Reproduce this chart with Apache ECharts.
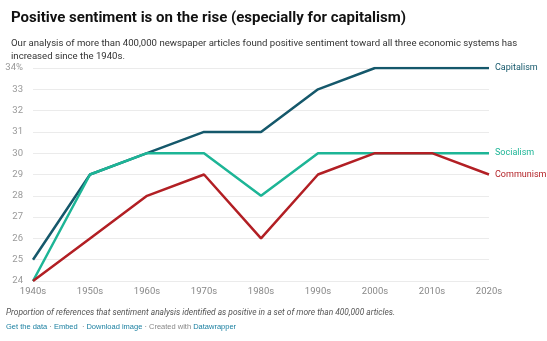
<!DOCTYPE html>
<html><head><meta charset="utf-8">
<script src="https://cdn.jsdelivr.net/npm/echarts@6/dist/echarts.min.js"></script>
<style>html,body{margin:0;padding:0;background:#fff}#c{width:547px;height:341px}</style>
</head><body><div id="c"></div>
<script>
const categories = ['1940s','1950s','1960s','1970s','1980s','1990s','2000s','2010s','2020s'];
const capitalism = [25, 29, 30, 31, 31, 33, 34, 34, 34];
const socialism  = [24, 29, 30, 30, 28, 30, 30, 30, 30];
const communism  = [24, 26, 28, 29, 26, 29, 30, 30, 29];
const yTicks = [24,25,26,27,28,29,30,31,32,33,34];

const chart = echarts.init(document.getElementById('c'));
function mk(name, data, color){
  return {name, type:'line', data, symbol:'none', smooth:false,
    lineStyle:{color, width:2.5}, itemStyle:{color},
    endLabel:{show:true, formatter:name, color, fontSize:9, fontFamily:'Roboto', distance:6}};
}
chart.setOption({
  animation:false,
  textStyle:{fontFamily:'Roboto'},
  title:[{text:'Positive sentiment is on the rise (especially for capitalism)', left:6, top:6,
    textStyle:{fontSize:15, fontWeight:'bold', color:'#111', fontFamily:'Roboto'}},
   {text:'Our analysis of more than 400,000 newspaper articles found positive sentiment toward all three economic systems has\nincreased since the 1940s.', left:6, top:32,
    textStyle:{fontSize:9.6, fontWeight:'normal', color:'#333', lineHeight:13, fontFamily:'Roboto'}}],
  grid:{left:33, right:58, top:68, bottom:60, containLabel:false},
  xAxis:{type:'category', data:categories, boundaryGap:false,
    axisLine:{show:false}, axisTick:{show:false},
    axisLabel:{color:'#888', fontSize:9.5, margin:6}},
  yAxis:{type:'value', min:24, max:34, interval:1,
    axisLine:{show:false}, axisTick:{show:false},
    splitLine:{lineStyle:{color:'#ebebeb', width:1}},
    axisLabel:{color:'#999', fontSize:9.5, margin:10, formatter:v=> v===yTicks[yTicks.length-1] ? v+'%' : String(v)}},
  series:[mk('Capitalism', capitalism, '#15586b'), mk('Socialism', socialism, '#1db596'), mk('Communism', communism, '#b21f24')],
  graphic:[
    {type:'text', left:6, top:309, style:{text:'Proportion of references that sentiment analysis identified as positive in a set of more than 400,000 articles.',
      fontSize:8.4, fontStyle:'italic', fill:'#555', fontFamily:'Roboto'}},
    {type:'text', left:6, top:323, style:{text:'{a|Get the data}{g| · }{a|Embed}{g|  · }{a|Download image}{g| · Created with }{a|Datawrapper}',
      fontSize:7.5, fontFamily:'Roboto', rich:{a:{fill:'#1d81a2', fontSize:7.5}, g:{fill:'#888', fontSize:7.5}}}}
  ]
});
</script></body></html>
